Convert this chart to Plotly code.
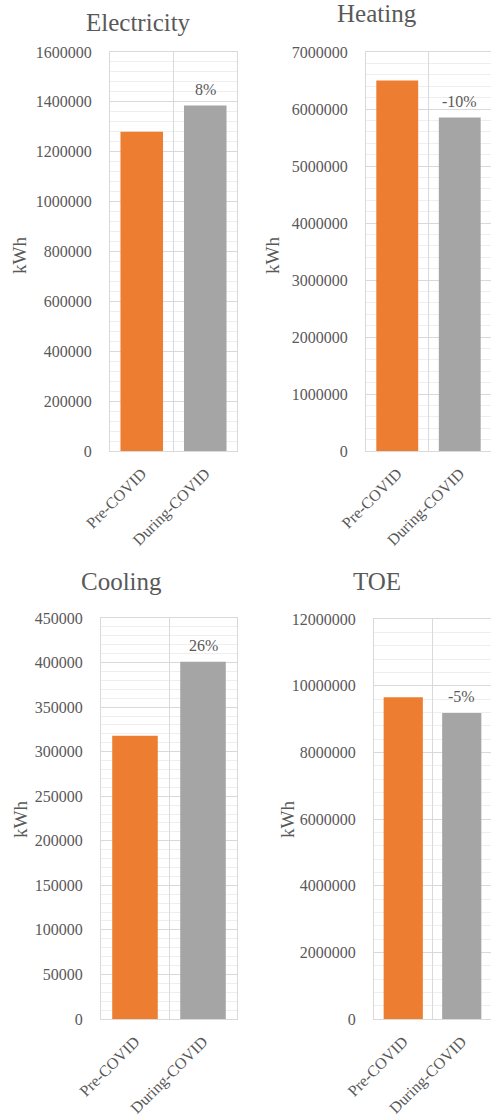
import plotly.graph_objects as go

W, H = 491, 1119

periods = ["Pre-COVID", "During-COVID"]
titles = ["Electricity", "Heating", "Cooling", "TOE"]
pre_values = [1280000, 6500000, 318000, 9650000]
during_values = [1385000, 5850000, 401000, 9180000]
y_max = [1600000, 7000000, 450000, 12000000]
y_step = [200000, 1000000, 50000, 2000000]

ORANGE = "#ED7D31"
GREY = "#A5A5A5"
TEXT = "#595959"
FONT = "Times New Roman"

# plot-area boxes in pixels: (left, right, top, bottom)
boxes = [
    (110, 237, 52, 451),
    (366, 491, 52, 451),
    (101, 237, 618, 1019),
    (374, 491, 619, 1019),
]
# title centres (x, y) and y-axis label centres in pixels
title_pos = [(138, 22), (377, 14), (121, 581), (377, 581)]
ylabel_pos = [(20, 256), (273, 256), (20, 820), (287, 820)]


def px_x(x):
    return x / W


def px_y(y):
    return 1 - y / H


fig = go.Figure()
annotations = []

for i, name in enumerate(titles):
    n = "" if i == 0 else str(i + 1)
    xa, ya = "x" + n, "y" + n
    left, right, top, bottom = boxes[i]

    fig.add_trace(go.Bar(
        x=periods,
        y=[pre_values[i], during_values[i]],
        marker=dict(color=[ORANGE, GREY], line=dict(width=0)),
        xaxis=xa, yaxis=ya,
        showlegend=False,
        hoverinfo="x+y",
    ))

    change = round((during_values[i] - pre_values[i]) / pre_values[i] * 100)
    annotations.append(dict(
        x=periods[1], y=during_values[i], xref=xa, yref=ya,
        text=f"{change}%", showarrow=False, yanchor="bottom", yshift=6,
        font=dict(family=FONT, size=16, color=TEXT),
    ))

    tx, ty = title_pos[i]
    annotations.append(dict(
        x=px_x(tx), y=px_y(ty), xref="paper", yref="paper",
        text=name, showarrow=False, xanchor="center", yanchor="middle",
        font=dict(family=FONT, size=25, color=TEXT),
    ))

    lx, ly = ylabel_pos[i]
    annotations.append(dict(
        x=px_x(lx), y=px_y(ly), xref="paper", yref="paper",
        text="kWh", showarrow=False, textangle=-90,
        xanchor="center", yanchor="middle",
        font=dict(family=FONT, size=19, color=TEXT),
    ))

    key = "" if i == 0 else str(i + 1)
    fig.update_layout({
        "xaxis" + key: dict(
            domain=[px_x(left), px_x(right)],
            anchor=ya,
            type="category",
            tickson="boundaries",
            automargin=False,
            showgrid=True, gridcolor="#D9D9D9", gridwidth=1,
            showline=True, linecolor="#D9D9D9", linewidth=1, mirror=True,
            ticks="", tickangle=-45,
            ticklabelstandoff=6,
            tickfont=dict(family=FONT, size=16, color=TEXT),
            fixedrange=True,
        ),
        "yaxis" + key: dict(
            domain=[px_y(bottom), px_y(top)],
            anchor=xa,
            range=[0, y_max[i]],
            dtick=y_step[i], tick0=0,
            tickformat="d",
            automargin=False,
            showgrid=True, gridcolor="#D9D9D9", gridwidth=1,
            zeroline=False,
            showline=True, linecolor="#D9D9D9", linewidth=1, mirror=True,
            ticks="",
            ticklabelstandoff=14,
            minor=dict(dtick=y_step[i] / 5, showgrid=True,
                       gridcolor="#EEEEEE", gridwidth=1),
            tickfont=dict(family=FONT, size=16, color=TEXT),
            fixedrange=True,
        ),
    })

fig.update_layout(
    width=W, height=H,
    margin=dict(l=0, r=0, t=0, b=0),
    paper_bgcolor="white", plot_bgcolor="white",
    bargap=0.33,
    annotations=annotations,
    font=dict(family=FONT, color=TEXT),
)

fig.write_html("out.html")
